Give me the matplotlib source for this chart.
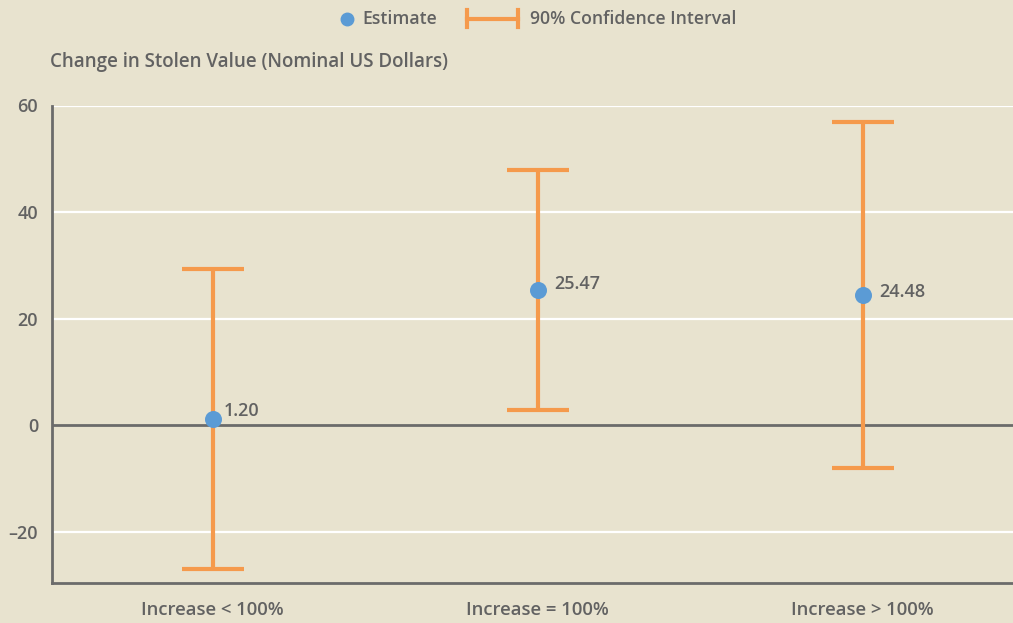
import matplotlib
matplotlib.use("Agg")
import matplotlib.pyplot as plt
from matplotlib.lines import Line2D

categories = ["Increase < 100%", "Increase = 100%", "Increase > 100%"]
estimates = [1.20, 25.47, 24.48]
ci_low = [-26.85, 2.97, -7.97]
ci_high = [29.25, 47.97, 56.93]
y_ticks = [-20, 0, 20, 40, 60]
y_tick_labels = ["\u201320", "0", "20", "40", "60"]

BG = "#E8E3CF"
ORANGE = "#F59A4C"
BLUE = "#5B9BD5"
TEXT = "#626262"
AXIS = "#6B6B6B"
FS = 13

plt.rcParams["font.family"] = ["Open Sans", "DejaVu Sans"]

W, H = 1013, 623
fig = plt.figure(figsize=(W / 100, H / 100), dpi=100, facecolor=BG)
ax = fig.add_axes([52 / W, 1 - 583.3 / H, (W - 52) / W, (583.3 - 105.5) / H])
ax.set_facecolor(BG)

x = list(range(len(categories)))
ax.set_xlim(-0.494, 2.463)
ax.set_ylim(-29.6, 60)

# grid
for t in y_ticks:
    if t != 0:
        ax.axhline(t, color="white", lw=1.6, zorder=1)
ax.axhline(0, color=AXIS, lw=2, zorder=2)

# confidence intervals
lower_err = [e - lo for e, lo in zip(estimates, ci_low)]
upper_err = [hi - e for e, hi in zip(estimates, ci_high)]
ax.errorbar(x, estimates, yerr=[lower_err, upper_err], fmt="none",
            ecolor=ORANGE, elinewidth=3, capsize=22, capthick=3, zorder=3)
ax.scatter(x, estimates, s=150, color=BLUE, zorder=4, linewidths=0)

offsets = [(8, 5.5), (12, 4), (12, 2)]
for xi, e, off in zip(x, estimates, offsets):
    ax.annotate(f"{e:.2f}", (xi, e), xytext=off, textcoords="offset points",
                ha="left", va="center", fontsize=FS, color=TEXT,
                fontweight="semibold")

ax.set_yticks(y_ticks)
ax.set_yticklabels(y_tick_labels)
ax.set_xticks(x)
ax.set_xticklabels(categories)
ax.tick_params(axis="y", length=0, labelsize=FS, labelcolor=TEXT, pad=10)
ax.tick_params(axis="x", length=0, labelsize=13.3, labelcolor=TEXT, pad=13)
for lab in ax.get_xticklabels() + ax.get_yticklabels():
    lab.set_fontweight("semibold")

for side in ["top", "right"]:
    ax.spines[side].set_visible(False)
for side in ["left", "bottom"]:
    ax.spines[side].set_color(AXIS)
    ax.spines[side].set_linewidth(2)

fig.text(50 / W, 1 - 62 / H, "Change in Stolen Value (Nominal US Dollars)",
         ha="left", va="center", fontsize=13.5, color=TEXT, fontweight="semibold")

# legend row
LFS = 12.7
ly = 1 - 18.5 / H
fig.add_artist(Line2D([347 / W], [ly], marker="o", color=BLUE, markersize=9,
                      linestyle="none", transform=fig.transFigure))
fig.text(362 / W, ly, "Estimate", ha="left", va="center", fontsize=LFS,
         color=TEXT, fontweight="semibold")
fig.add_artist(Line2D([467 / W, 518 / W], [ly, ly], color=ORANGE, lw=3,
                      transform=fig.transFigure))
for xe in (467, 518):
    fig.add_artist(Line2D([xe / W, xe / W], [ly - 8.5 / H, ly + 8.5 / H],
                          color=ORANGE, lw=3, transform=fig.transFigure))
fig.text(530 / W, ly, "90% Confidence Interval", ha="left", va="center",
         fontsize=LFS, color=TEXT, fontweight="semibold")

fig.savefig("out.png", dpi=100, facecolor=BG)
